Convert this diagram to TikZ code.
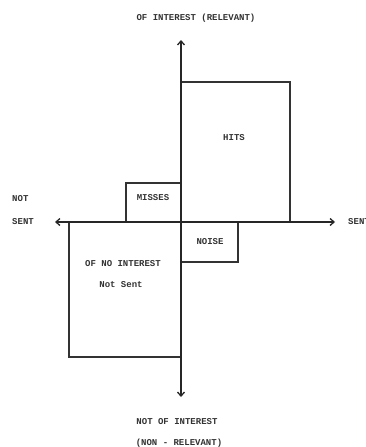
\documentclass[tikz,border=0pt]{standalone}
\usepackage{fontspec}
\setmonofont{Liberation Mono}
\usetikzlibrary{arrows.meta}
\begin{document}
\begin{tikzpicture}[x=1pt,y=-1pt,
  axis/.style={line width=1.3pt,draw=black!85,-{Straight Barb[length=4pt,width=7pt]}},
  boxline/.style={line width=1.2pt,draw=black!80},
  lbl/.style={font=\ttfamily\bfseries\fontsize{9}{10}\selectfont,text=black!80,inner sep=0pt},
  lblw/.style={lbl,anchor=west}]
\useasboundingbox (0,0) rectangle (366,447);
% boxes
\draw[boxline] (181,82) -- (290,82) -- (290,222);
\draw[boxline] (181,222) -- (126,222) -- (126,183) -- (181,183);
\draw[boxline] (181,222) -- (238,222) -- (238,262) -- (181,262);
\draw[boxline] (181,357) -- (69,357) -- (69,222);
% axes
\coordinate (c) at (181,222);
\coordinate (top) at (181,40);
\coordinate (bot) at (181,397);
\coordinate (lft) at (55,222);
\coordinate (rgt) at (335,222);
\draw[axis] (c) -- (top);
\draw[axis] (c) -- (bot);
\draw[axis] (c) -- (lft);
\draw[axis] (c) -- (rgt);
% labels
\node[lbl] (t1) at (196,18) {OF INTEREST (RELEVANT)};
\node[lbl] (b1) at (177,422) {NOT OF INTEREST};
\node[lbl] (b2) at (179,443) {(NON - RELEVANT)};
\node[lblw] (n1) at (12,199) {NOT};
\node[lblw] (n2) at (12,222) {SENT};
\node[lblw] (s1) at (348,222) {SENT};
\node[lbl] (hits) at (234,138) {HITS};
\node[lbl] (miss) at (153,198) {MISSES};
\node[lbl] (noise) at (210,242) {NOISE};
\node[lbl] (oni) at (123,264) {OF NO INTEREST};
\node[lbl] (ns) at (121,285) {Not Sent};
\end{tikzpicture}
\end{document}
